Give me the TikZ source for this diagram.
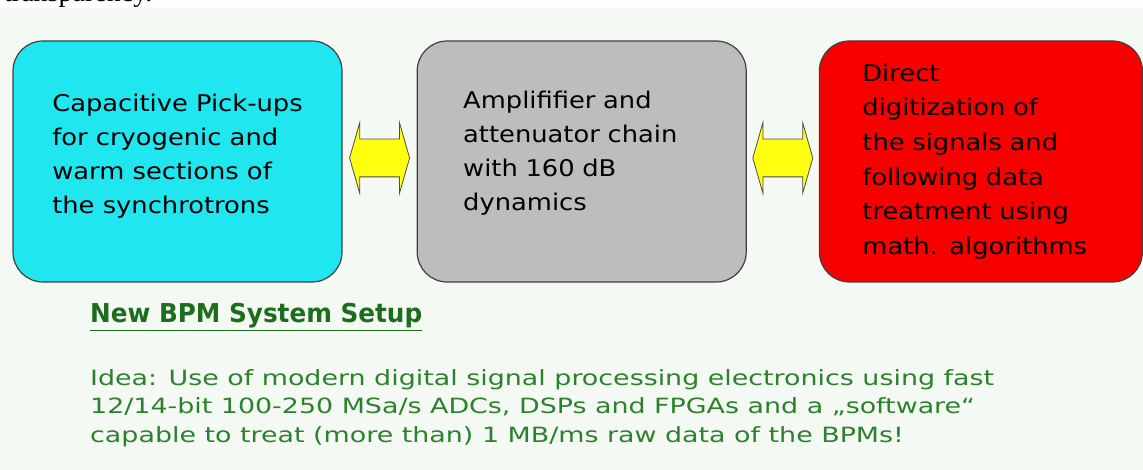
\documentclass[tikz,border=0pt]{standalone}
\usepackage{fontspec}
\setmainfont{DejaVu Sans}[FakeStretch=1.12]
\newfontfamily\pagefont{Liberation Serif}
\newfontfamily\hdrfont{DejaVu Sans}[FakeStretch=0.95]
\newfontfamily\parafont{DejaVu Sans}[FakeStretch=1.28]
\usetikzlibrary{positioning, shapes.arrows, calc}
\definecolor{bpmbg}{HTML}{F4F9F4}
\definecolor{bpmcyan}{HTML}{20E6F0}
\definecolor{bpmgrey}{HTML}{BDBDBD}
\definecolor{bpmred}{HTML}{F80000}
\definecolor{bpmyellow}{HTML}{FFFF10}
\definecolor{bpmgreen}{HTML}{1C6E1C}
\definecolor{bpmtext}{HTML}{2C812C}
\tikzset{
  box/.style={rectangle, rounded corners=30pt, draw=black!75, line width=1.2pt,
              minimum width=329pt, minimum height=241pt, align=left, inner sep=0pt,
              font=\fontsize{23}{34}\selectfont},
  boxc/.style={box, fill=bpmcyan, text depth=16pt},
  boxk/.style={box, fill=bpmgrey, text width=237pt, text depth=123pt},
  boxr/.style={box, fill=bpmred, minimum width=323pt, text width=237pt,
               font=\fontsize{23}{34.6}\selectfont},
  link/.style={double arrow, draw=black!70, line width=0.8pt, fill=bpmyellow,
               minimum height=60pt, minimum width=70pt, inner xsep=0pt, inner ysep=18.5pt,
               double arrow head extend=16.5pt, double arrow tip angle=148},
  hdr/.style={font=\hdrfont\fontsize{26}{30}\selectfont\bfseries, text=bpmgreen, inner sep=0pt},
  para/.style={font=\parafont\fontsize{21}{28.5}\selectfont, text=bpmtext, align=left, inner sep=0pt},
}

\begin{document}
\begin{tikzpicture}[x=1pt, y=-1pt]
  \useasboundingbox (0,0) rectangle (1143,470);
  \fill[bpmbg] (0,8) rectangle (1143,470);
  \node[anchor=base west, inner sep=0pt, font=\pagefont\fontsize{28}{30}\selectfont] (prev) at (4,2) {transparency.};

  \node[boxc] (pickup) at (177.5,161.5) {Capacitive Pick-ups\\for cryogenic and\\warm sections of\\the synchrotrons};
  \node[boxk, right=74pt of pickup] (amp) {Amplififier and\\attenuator chain\\with 160 dB\\dynamics};
  \node[boxr, right=72pt of amp] (adc) {Direct\\digitization of\\the signals and\\following data\\treatment using\\math. algorithms};

  \node[link, yshift=3.5pt] (l1) at ($(pickup.east)!0.5!(amp.west)$) {};
  \node[link, yshift=3.5pt] (l2) at ($(amp.east)!0.5!(adc.west)$) {};

  \node[hdr, anchor=base west] (title) at (90,323) {\underline{New BPM System Setup}};
  \node[para, anchor=north west] (idea) at (90,369) {Idea: Use of modern digital signal processing electronics using fast\\12/14-bit 100-250 MSa/s ADCs, DSPs and FPGAs and a \char"201E software\char"201C\\capable to treat (more than) 1 MB/ms raw data of the BPMs!};
\end{tikzpicture}
\end{document}
